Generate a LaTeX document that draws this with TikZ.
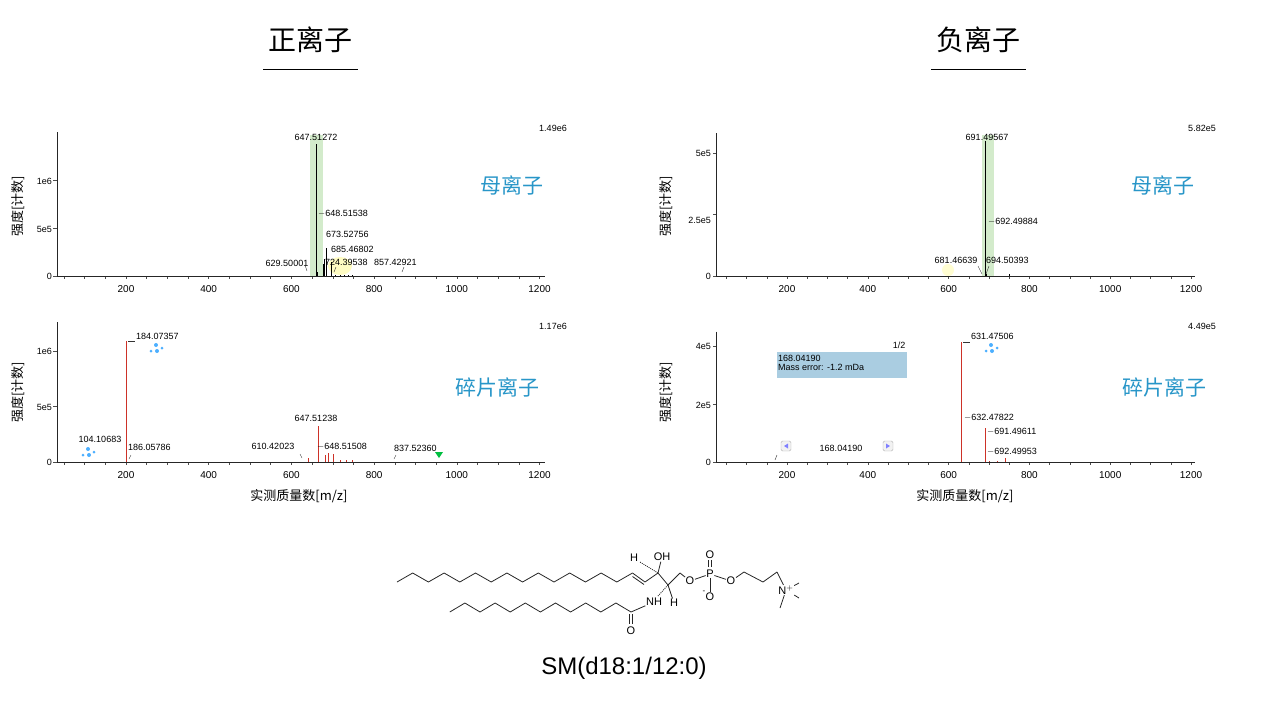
\documentclass[tikz,border=0pt]{standalone}
\usepackage{fontspec}
\setmainfont{Liberation Sans}
\newfontfamily\cjk{Noto Sans CJK SC}
\usetikzlibrary{calc}
\definecolor{lblue}{RGB}{40,150,200}
\definecolor{pkred}{RGB}{205,50,40}
\definecolor{hlgreen}{RGB}{200,230,190}
\definecolor{boxblue}{RGB}{170,205,225}
\tikzset{
  ax/.style={line width=0.9pt,black!85},
  tk/.style={black!70,line width=0.5pt},
  num/.style={font=\fontsize{9}{9}\selectfont,inner sep=1pt},
  ylab/.style={font=\cjk\fontsize{13}{13}\selectfont,rotate=90},
  big/.style={font=\cjk\fontsize{21}{21}\selectfont,text=lblue},
  ttl/.style={font=\cjk\fontsize{28}{28}\selectfont},
  pk/.style={line width=0.9pt},
  rpk/.style={line width=1pt,draw=pkred},
  bond/.style={line width=0.8pt,black!85,line join=round},
  atom/.style={font=\fontsize{11}{11}\selectfont,inner sep=0.5pt,fill=white},
  dot/.style={circle,fill=blue!45!cyan!70,inner sep=0pt,minimum size=4pt},
  btn/.style={draw=gray!60,fill=gray!10,rounded corners=1.5pt,minimum size=10pt,inner sep=0pt}
}
\newcommand{\xticks}[1]{%
  \foreach \m in {50,100,...,1200} \draw[tk] (\m,0) -- ++(0,-3pt);
  \foreach \m in {200,400,...,1200} \node[num,font=\fontsize{10}{10}\selectfont,anchor=north] (t#1\m) at ($(\m,0)+(0,-8pt)$) {\m};
}
\newcommand{\mol}[2]{%
  \node[dot] (#1a) at ($#2+(0,-3)$) {};
  \node[dot,minimum size=3pt] (#1b) at ($#2+(-5,3)$) {};
  \node[dot] (#1c) at ($#2+(1,3)$) {};
  \node[dot,minimum size=3pt] (#1d) at ($#2+(6,0)$) {};
}
\begin{document}
\begin{tikzpicture}[x=1pt,y=-1pt]
\useasboundingbox (0,0) rectangle (1280,713);
% titles
\node[ttl] (t1) at (310,40) {正离子};
\node[ttl] (t2) at (978,40) {负离子};
\draw[line width=1pt] (263,69) -- (358,69);
\draw[line width=1pt] (931,69) -- (1026,69);

% ===== top-left =====
\fill[hlgreen,opacity=0.8] (310,135) rectangle (323,276);
\fill[yellow!40,opacity=0.6] (340,266) ellipse (12 and 9);
\begin{scope}[shift={(43.3,276)},x=0.4135pt,y=9.6pt]
  \xticks{a}
  \foreach \v in {0,5,10} \draw[tk] (32,\v) -- ++(-4pt,0);
\end{scope}
\begin{scope}[shift={(48.3,276)},x=0.4135pt,y=9.6pt]
  \draw[pk] (647.5,0) -- (647.5,13.7);
  \draw[pk] (652,0) -- (652,0.4);
  \draw[pk] (665,0) -- (665,1.2);
  \draw[pk] (668,0) -- (668,1.8);
  \draw[pk] (673.5,0) -- (673.5,2.9);
  \draw[pk] (685.5,0) -- (685.5,1.5);
  \foreach \m in {695,705,715,725,735} \draw[pk,line width=0.5pt] (\m,0) -- (\m,0.15);
\end{scope}
\draw[ax] (57,132) -- (57,276) -- (545,276);
\node[num,anchor=east] (ya0) at (53,276) {0};
\node[num,anchor=east] (ya1) at (53,229) {5e5};
\node[num,anchor=east] (ya2) at (53,181) {1e6};
\node[ylab] (yla) at (18,206) {强度[计数]};
\node[num] (ma) at (553,128) {1.49e6};
\node[num] (la1) at (316,137) {647.51272};
\node[num,anchor=west] (la2) at (317,214) {$-$648.51538};
\node[num,anchor=west] (la3) at (325,234) {673.52756};
\node[num,anchor=west] (la4) at (330,249) {685.46802};
\node[num] (la5) at (287,263) {629.50001};
\node[num,anchor=west] (la6) at (324,262) {724.39538};
\node[num,anchor=west] (la7) at (373,262) {857.42921};
\draw[black!80] (305,265) -- (307,271) (334,272) -- (336,267) (402,272) -- (404,267);
\node[big] (ba) at (512,185) {母离子};

% ===== bottom-left =====
\begin{scope}[shift={(43.3,462)},x=0.4135pt,y=11.1pt]
  \xticks{b}
  \foreach \v in {0,5,10} \draw[tk] (32,\v) -- ++(-4pt,0);
\end{scope}
\begin{scope}[shift={(50.3,462)},x=0.4135pt,y=11.1pt]
  \draw[rpk] (184,0) -- (184,10.9);
  \draw[rpk] (647.5,0) -- (647.5,3.2);
  \draw[rpk] (625,0) -- (625,0.4);
  \draw[rpk] (665,0) -- (665,0.6);
  \draw[rpk] (673,0) -- (673,0.8);
  \draw[rpk] (686,0) -- (686,0.7);
  \foreach \m in {700,715,730} \draw[rpk,line width=0.5pt] (\m,0) -- (\m,0.15);
\end{scope}
\draw[ax] (57,322) -- (57,462) -- (545,462);
\node[num,anchor=east] (yb0) at (53,462) {0};
\node[num,anchor=east] (yb1) at (53,407) {5e5};
\node[num,anchor=east] (yb2) at (53,351) {1e6};
\node[ylab] (ylb) at (18,392) {强度[计数]};
\node[num] (mb) at (553,326) {1.17e6};
\draw[black!80] (128,341) -- (135,341);
\node[num,anchor=west] (lb1) at (135,336) {184.07357};
\node[num] (lb2) at (100,439) {104.10683};
\node[num,anchor=west] (lb3) at (127,447) {186.05786};
\node[num] (lb4) at (316,418) {647.51238};
\node[num] (lb5) at (273,446) {610.42023};
\node[num,anchor=west] (lb6) at (316,447) {$-$648.51508};
\node[num,anchor=west] (lb7) at (393,448) {837.52360};
\draw[black!80] (129,459) -- (131,455) (300,454) -- (302,458) (394,459) -- (396,455);
\fill[green!50!teal] (435,452) -- (443,452) -- (439,458) -- cycle;
\mol{ma}{(156,348)}
\mol{mb}{(88,452)}
\node[big] (bb) at (497,387) {碎片离子};
\node[font=\cjk\fontsize{13}{13}\selectfont] (xa) at (299,496) {实测质量数[m/z]};

% ===== top-right =====
\fill[hlgreen,opacity=0.8] (982,135) rectangle (994,276);
\fill[yellow!30,opacity=0.6] (948,270) ellipse (6 and 6);
\begin{scope}[shift={(706.2,276)},x=0.404pt,y=24.6pt]
  \draw[pk] (691.5,0) -- (691.5,5.5);
  \draw[pk] (692.5,0) -- (692.5,0.1);
  \draw[pk,line width=0.5pt] (750,0) -- (750,0.1);
  \xticks{c}
  \foreach \v in {0,2.5,5} \draw[tk] (26,\v) -- ++(-4pt,0);
  \draw[ax] (26,5.8) -- (26,0) -- (1210,0);
\end{scope}
\node[num,anchor=east] (yc0) at (712,276) {0};
\node[num,anchor=east] (yc1) at (712,220) {2.5e5};
\node[num,anchor=east] (yc2) at (712,153) {5e5};
\node[ylab] (ylc) at (666,206) {强度[计数]};
\node[num] (mc) at (1202,128) {5.82e5};
\node[num] (lc1) at (987,137) {691.49567};
\node[num,anchor=west] (lc2) at (987,222) {$-$692.49884};
\node[num] (lc3) at (956,260) {681.46639};
\node[num,anchor=west] (lc4) at (985,260) {694.50393};
\draw[black!80] (978,266) -- (982,274) (986,274) -- (989,266);
\node[big] (bc) at (1163,185) {母离子};

% ===== bottom-right =====
\fill[boxblue] (777,352) rectangle (907,378);
\node[num,anchor=north west,align=left] (box) at (777,354) {168.04190\\Mass error: -1.2 mDa};
\node[num] (pg) at (899,345) {1/2};
\begin{scope}[shift={(706.2,462)},x=0.404pt,y=29pt]
  \draw[rpk] (631.5,0) -- (631.5,4.15);
  \draw[rpk] (691.5,0) -- (691.5,1.17);
  \draw[rpk] (740,0) -- (740,0.15);
  \draw[rpk,line width=0.5pt] (700,0) -- (700,0.05) (720,0)--(720,0.05);
  \xticks{d}
  \foreach \v in {0,2,4} \draw[tk] (26,\v) -- ++(-4pt,0);
  \draw[ax] (26,4.5) -- (26,0) -- (1210,0);
\end{scope}
\node[num,anchor=east] (yd0) at (712,462) {0};
\node[num,anchor=east] (yd1) at (712,405) {2e5};
\node[num,anchor=east] (yd2) at (712,346) {4e5};
\node[ylab] (yld) at (666,392) {强度[计数]};
\node[num] (md) at (1202,326) {4.49e5};
\draw[black!80] (963,342) -- (970,342);
\node[num,anchor=west] (ld1) at (970,336) {631.47506};
\node[num,anchor=west] (ld2) at (963,418) {$-$632.47822};
\node[num,anchor=west] (ld3) at (986,432) {$-$691.49611};
\node[num,anchor=west] (ld4) at (986,452) {$-$692.49953};
\node[num] (ld5) at (841,448) {168.04190};
\draw[black!80] (775,460) -- (777,455);
\node[btn] (bl) at (786,446) {};
\fill[blue!50] ($(bl)+(-2,0)$) -- ($(bl)+(2,-2.5)$) -- ($(bl)+(2,2.5)$) -- cycle;
\node[btn] (br) at (888,446) {};
\fill[blue!50] ($(br)+(2,0)$) -- ($(br)+(-2,-2.5)$) -- ($(br)+(-2,2.5)$) -- cycle;
\mol{mc}{(991,348)}
\node[big] (bd) at (1164,387) {碎片离子};
\node[font=\cjk\fontsize{13}{13}\selectfont] (xb) at (965,496) {实测质量数[m/z]};

% ===== structure =====
\draw[bond] (397,582) \foreach \i in {1,...,15} { -- ({397+\i*15.7},{582-mod(\i,2)*9}) };
\draw[bond] (632.5,573) -- (645,582) -- (658,573);
\draw[bond] (632.5,576.5) -- (644,584.5);
\coordinate (c3) at (658,573);
\coordinate (c2) at (668,585);
\coordinate (c1) at (680,573);
\draw[bond] (c3) -- (c2) -- (c1);
\node[atom] (oh) at (662,557) {OH};
\draw[bond] (c3) -- (oh);
\node[atom] (h1) at (634,558) {H};
\draw[bond,dash pattern=on 1pt off 1pt] (c3) -- (640,562);
\node[atom] (op) at (690,581) {O};
\node[atom] (pp) at (710,574) {P};
\node[atom] (o1) at (710,555) {O};
\node[atom] (o2) at (710,597) {O};
\node[font=\fontsize{8}{8}\selectfont] (neg) at (704,592) {-};
\node[atom] (o3) at (731,581) {O};
\draw[bond] (c1) -- (op) -- (pp) -- (o3);
\draw[bond] (708.5,567) -- (708.5,560) (711.5,567) -- (711.5,560);
\draw[bond] (pp) -- (o2);
\coordinate (e1) at (744,572);
\coordinate (e2) at (763,582);
\coordinate (e3) at (777,572);
\draw[bond] (o3) -- (e1) -- (e2) -- (e3);
\node[atom] (nn) at (786,590) {N$^{+}$};
\draw[bond] (e3) -- (nn);
\draw[bond] (nn) -- (799,583) (nn) -- (799,598) (nn) -- (780,608);
\node[atom] (nh) at (654,602) {NH};
\node[atom] (h2) at (674,603) {H};
\draw[bond] (c2) -- (h2);
\draw[bond,dash pattern=on 1pt off 1pt] (c2) -- (658,596);
\coordinate (ca) at (631,612);
\node[atom] (oa) at (631,631) {O};
\draw[bond] (nh) -- (ca);
\draw[bond] (629.5,614) -- (629.5,624) (632.5,614) -- (632.5,624);
\draw[bond] (ca) \foreach \i in {1,...,12} { -- ({631-\i*15.1},{612-mod(\i,2)*9}) };
\node[font=\fontsize{24}{24}\selectfont] (sm) at (624,668) {SM(d18:1/12:0)};
\end{tikzpicture}
\end{document}
